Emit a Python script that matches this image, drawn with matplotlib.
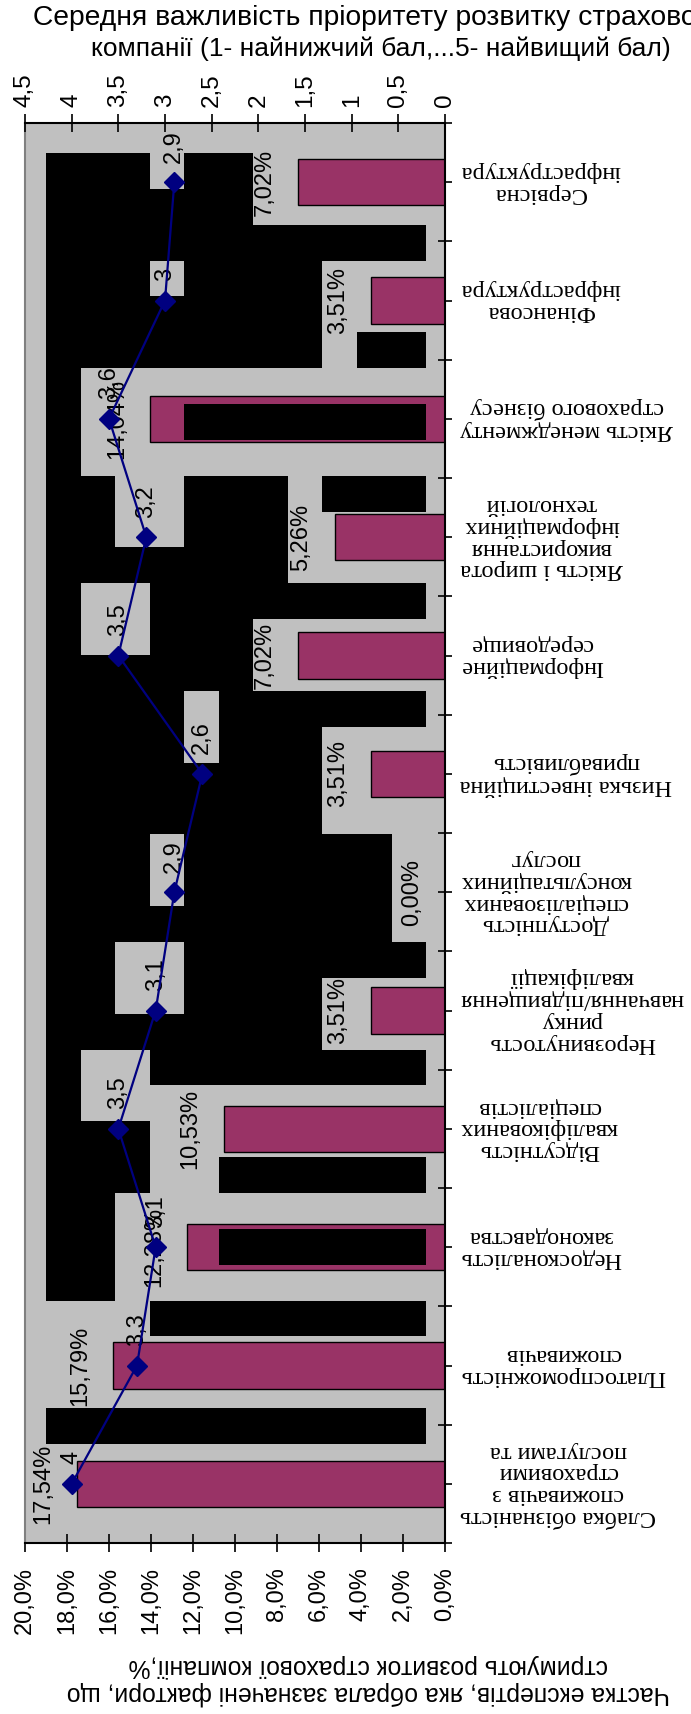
import numpy as np
import matplotlib
matplotlib.use("Agg")
import matplotlib.pyplot as plt
from matplotlib.patches import Rectangle
from matplotlib.transforms import IdentityTransform, blended_transform_factory

plt.rcParams["font.family"] = ["Liberation Sans", "DejaVu Sans"]

# ---- data -------------------------------------------------------------
categories = [
    "Слабка обізнаність\nспоживачів з\nстраховими\nпослугами та",
    "Платоспроможність\nспоживачів",
    "Недосконалість\nзаконодавства",
    "Відсутність\nкваліфікованих\nспеціалістів",
    "Нерозвинутость\nринку\nнавчання/підвищення\nкваліфікації",
    "Доступність\nспеціалізованих\nконсультаційних\nпослуг",
    "Низька інвестиційна\nпривабливість",
    "Інформаційне\nсередовище",
    "Якість і широта\nвикористання\nінформаційних\nтехнологій",
    "Якість менеджменту\nстрахового бізнесу",
    "Фінансова\nінфраструктура",
    "Сервісна\nінфраструктура",
]
share_pct = [17.54, 15.79, 12.28, 10.53, 3.51, 0.00, 3.51, 7.02, 5.26, 14.04, 3.51, 7.02]
importance = [4.0, 3.3, 3.1, 3.5, 3.1, 2.9, 2.6, 3.5, 3.2, 3.6, 3.0, 2.9]
pct_ticks = [0, 2, 4, 6, 8, 10, 12, 14, 16, 18, 20]
score_ticks = [0, 0.5, 1, 1.5, 2, 2.5, 3, 3.5, 4, 4.5]

title_top_1 = "Середня важливість пріоритету розвитку страхової"
title_top_2 = "компанії (1- найнижчий бал,...5- найвищий бал)"
title_bottom = "Частка експертів, яка обрала зазначені фактори, що\nстримують розвиток страхової компанії,%"


def comma(text):
    return text.replace(".", ",")


# ---- figure / axes ----------------------------------------------------
W, H = 691, 1714
fig = plt.figure(figsize=(W / 100, H / 100), dpi=100)
fig.patch.set_facecolor("white")

ax_l, ax_r, ax_t, ax_b = 25, 445, 123, 1543
ax = fig.add_axes([ax_l / W, (H - ax_b) / H, (ax_r - ax_l) / W, (ax_b - ax_t) / H])
ax.set_facecolor("#C0C0C0")

pos = np.arange(len(categories)) + 0.5
ax.barh(pos, share_pct, height=0.39, color="#993366", edgecolor="black",
        linewidth=1.0, zorder=2)
ax.set_xlim(20, 0)
ax.set_ylim(0, len(categories))

ax.set_xticks(pct_ticks)
ax.set_xticklabels([comma(f"{t:.1f}%") for t in pct_ticks], rotation=90, fontsize=17)
ax.tick_params(axis="x", direction="inout", length=13, width=1.2, pad=11)

ax.set_yticks(np.arange(0, len(categories) + 0.01, 0.5))
ax.yaxis.tick_right()
ax.set_yticklabels([])
ax.tick_params(axis="y", direction="inout", length=10, width=1.2)

for side in ("bottom", "right"):
    ax.spines[side].set_color("black")
    ax.spines[side].set_linewidth(1.5)
ax.spines["left"].set_color("#808080")
ax.spines["left"].set_linewidth(1.5)
ax.spines["top"].set_visible(False)

# secondary scale on top for the average importance
ax2 = ax.twiny()
ax2.set_xlim(4.5, 0)
ax2.set_xticks(score_ticks)
ax2.set_xticklabels([comma(f"{t:g}") for t in score_ticks], rotation=90, fontsize=17.5)
ax2.tick_params(axis="x", direction="inout", length=13, width=1.2, pad=5)
for side in ("left", "right", "bottom"):
    ax2.spines[side].set_visible(False)
ax2.spines["top"].set_linewidth(1.5)

# category labels to the right of the plot
lab_tr = blended_transform_factory(ax.transAxes, ax.transData)
for p, name in zip(pos, categories):
    ax.text(1 + 15 / (ax_r - ax_l), p, name, transform=lab_tr, rotation=180,
            ha="left", va="center", multialignment="center",
            family=["Liberation Serif", "DejaVu Serif"], fontsize=17.5,
            linespacing=1.05, clip_on=False)

# value labels
for p, v in zip(pos, share_pct):
    ax.annotate(comma(f"{v:.2f}%"), xy=(v, p), xytext=(-16, 0),
                textcoords="offset points", rotation=90, ha="right",
                va="center", fontsize=17, zorder=3)
for p, s in zip(pos, importance):
    ax2.annotate(comma(f"{s:g}"), xy=(s, p), xytext=(0, 14),
                 textcoords="offset points", rotation=90, ha="center",
                 va="bottom", fontsize=17, zorder=3)

# titles
fig.text(33 / W, 1 - 18 / H, title_top_1, ha="left", va="center", fontsize=20.3)
fig.text(381 / W, 1 - 49 / H, title_top_2, ha="center", va="center", fontsize=19)
fig.text(368 / W, 1 - 1680 / H, title_bottom, ha="center", va="center",
         rotation=180, fontsize=17.8, linespacing=1.15)

# ---- blocky fill: flat tiles of the plot area turn black ------------------
fig.canvas.draw()
img = np.asarray(fig.canvas.buffer_rgba())[:, :, :3].astype(int)
bb = ax.get_window_extent()
gx0 = bb.x0 + 21
gy0 = (H - bb.y1) + 30
tw, th = 34.55, 35.86
ncols, nrows = 11, 38
for r in range(nrows):
    for c in range(ncols):
        xa, xb = int(round(gx0 + c * tw)), int(round(gx0 + (c + 1) * tw))
        ya, yb = int(round(gy0 + r * th)), int(round(gy0 + (r + 1) * th))
        tile = img[ya:yb, xa:xb].reshape(-1, 3)
        if len(tile) and np.ptp(tile, axis=0).max() <= 6:
            ax.add_artist(Rectangle((xa, H - yb), xb - xa, yb - ya,
                                    transform=IdentityTransform(),
                                    facecolor="black", edgecolor="none",
                                    antialiased=False, zorder=2.6))

# importance line drawn on top
ax2.plot(importance, pos, color="#000080", linewidth=1.6, marker="D",
         markersize=10, markerfacecolor="#000080", markeredgecolor="#000080",
         zorder=5, clip_on=False)

fig.savefig("out.png", dpi=100, facecolor="white")
